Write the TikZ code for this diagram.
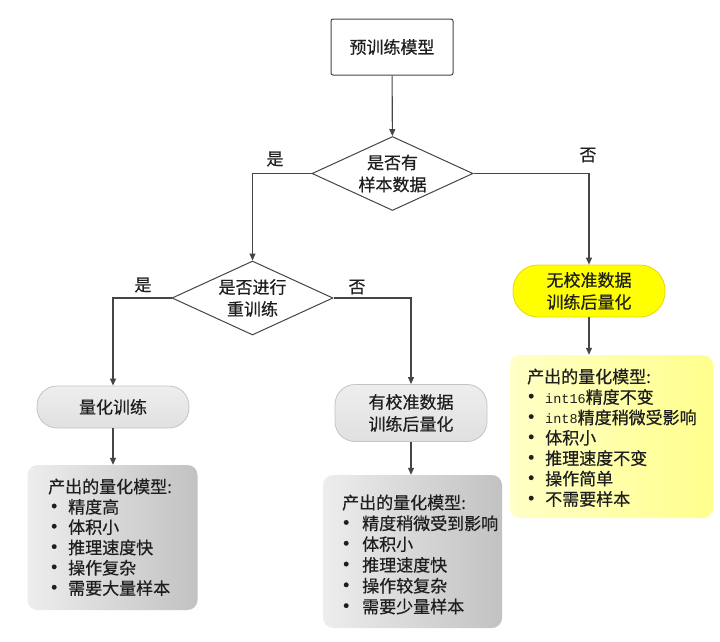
\documentclass[tikz,border=0pt]{standalone}
\usepackage{fontspec}
\setmainfont{Noto Sans CJK SC}[FakeBold=0.5]
\newfontfamily\monofont{Liberation Mono}
\usetikzlibrary{shapes.geometric,arrows.meta}
\definecolor{linec}{HTML}{454545}
\definecolor{txtc}{HTML}{1E1E1E}
\definecolor{stadfill}{HTML}{E0E0E0}
\definecolor{stadline}{HTML}{C4C4C4}
\definecolor{yelfill}{HTML}{FFFF00}
\definecolor{yelline}{HTML}{E8D800}
\newcommand\bul[1]{\hspace*{#1}\makebox[0pt]{\raisebox{-1pt}{\fontsize{22}{20}\selectfont •}}}
\begin{document}
\begin{tikzpicture}[x=1pt,y=-1pt,
  every node/.style={text=txtc,font=\fontsize{17}{22}\selectfont},
  conn/.style={draw=linec,line width=1.1pt,-{Triangle[length=7pt,width=6pt]}},
  procbox/.style={draw=linec,line width=1pt,fill=white,rounded corners=2pt,minimum width=122pt,minimum height=56pt,inner sep=0pt},
  diam/.style={draw=linec,line width=1pt,fill=white,diamond,minimum width=161pt,minimum height=74pt,inner sep=0pt},
  lbl/.style={inner sep=0pt,align=center},
  stadgray/.style={draw=stadline,line width=0.8pt,top color=stadfill!55!white,bottom color=stadfill,rounded corners=20pt,minimum width=152pt,inner sep=0pt,align=center},
  stadyel/.style={draw=yelline,line width=0.8pt,fill=yelfill,rounded corners=25pt,minimum width=152pt,inner sep=0pt,align=center},
  graybox/.style={left color=white!93!black,right color=white!76!black,rounded corners=10pt,inner sep=0pt},
  yelbox/.style={left color=yellow!22!white,right color=yellow!45!white,rounded corners=10pt,inner sep=0pt},
  listtxt/.style={anchor=base west,inner sep=0pt}
]
\useasboundingbox (0,0) rectangle (720,641);

% boxes (background)
\node[graybox,minimum width=170pt,minimum height=145pt] (b1) at (112.5,537.5) {};
\node[graybox,minimum width=179pt,minimum height=153pt] (b2) at (412.5,551.5) {};
\node[yelbox,minimum width=203pt,minimum height=163pt] (b3) at (611.5,436.5) {};

% main nodes
\node[procbox] (pre) at (392,47) {预训练模型};
\node[diam] (d1) at (392.5,173.5) {};
\node[lbl] (d1t) at (d1) {是否有\\样本数据};
\node[diam] (d2) at (252.5,298) {};
\node[lbl] (d2t) at (d2) {是否进行\\重训练};
\node[stadgray,minimum height=42pt] (qt) at (113,407) {量化训练};
\node[stadgray,minimum height=57pt] (cal) at (411,413) {有校准数据\\训练后量化};
\node[stadyel,minimum height=52pt] (nocal) at (589,291) {无校准数据\\训练后量化};

% branch labels
\node[lbl] (y1) at (275,159) {是};
\node[lbl] (n1) at (588,155) {否};
\node[lbl] (y2) at (143,285) {是};
\node[lbl] (n2) at (357,287) {否};

% list texts
\node[listtxt,font=\fontsize{17}{20}\selectfont] (t1) at (48,493) {%
\begin{tabular}[t]{@{}l@{}}
产出的量化模型:\\
\bul{6pt}\hspace*{14pt}精度高\\
\bul{6pt}\hspace*{14pt}体积小\\
\bul{6pt}\hspace*{14pt}推理速度快\\
\bul{6pt}\hspace*{14pt}操作复杂\\
\bul{6pt}\hspace*{14pt}需要大量样本
\end{tabular}};
\node[listtxt,font=\fontsize{17}{20.8}\selectfont] (t2) at (342,509) {%
\begin{tabular}[t]{@{}l@{}}
产出的量化模型:\\
\bul{4pt}\hspace*{16pt}精度稍微受到影响\\
\bul{4pt}\hspace*{16pt}体积小\\
\bul{4pt}\hspace*{16pt}推理速度快\\
\bul{4pt}\hspace*{16pt}操作较复杂\\
\bul{4pt}\hspace*{16pt}需要少量样本
\end{tabular}};
\node[listtxt,font=\fontsize{17}{20.2}\selectfont] (t3) at (527,383) {%
\begin{tabular}[t]{@{}l@{}}
产出的量化模型:\\
\bul{4pt}\hspace*{14pt}{\monofont\fontsize{13.5}{20}\selectfont int16}精度不变\\
\bul{4pt}\hspace*{14pt}{\monofont\fontsize{13.5}{20}\selectfont int8}精度稍微受影响\\
\bul{4pt}\hspace*{14pt}体积小\\
\bul{4pt}\hspace*{14pt}推理速度不变\\
\bul{4pt}\hspace*{14pt}操作简单\\
\bul{4pt}\hspace*{14pt}不需要样本
\end{tabular}};

% connectors
\draw[conn] (pre) -- (d1);
\draw[conn] (d1.west) -| (d2.north);
\draw[conn] (d1.east) -| (nocal.north);
\draw[conn] (d2.west) -| (qt.north);
\draw[conn] (d2.east) -| (cal.north);
\draw[conn] (qt.south) -- (qt.south |- b1.north);
\draw[conn] (cal.south) -- (cal.south |- b2.north);
\draw[conn] (nocal.south) -- (nocal.south |- b3.north);
\end{tikzpicture}
\end{document}
